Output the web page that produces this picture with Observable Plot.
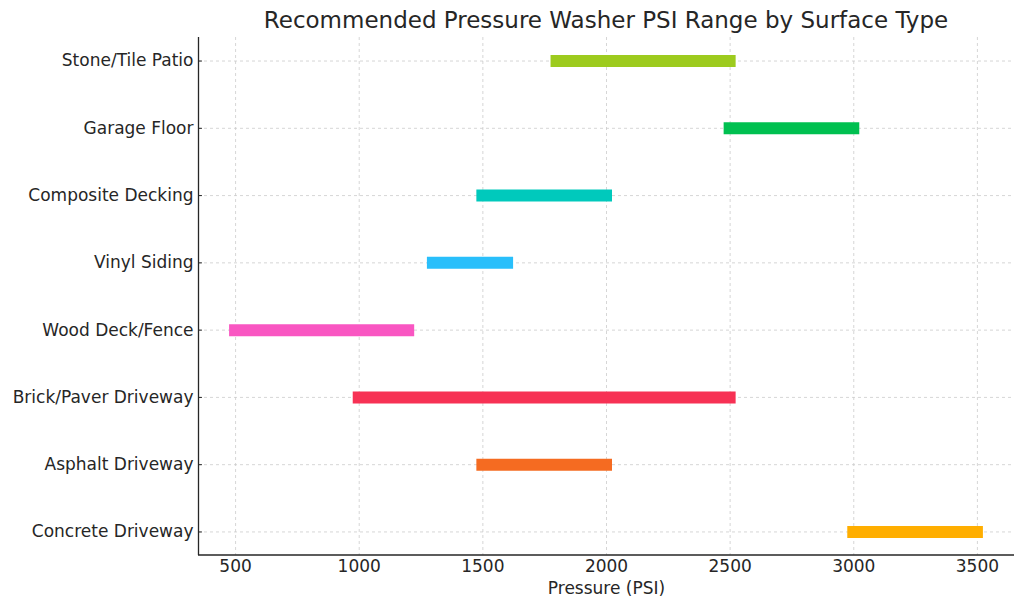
<!DOCTYPE html>
<html>
<head>
<meta charset="utf-8">
<script src="https://cdn.jsdelivr.net/npm/d3@7"></script>
<script src="https://cdn.jsdelivr.net/npm/@observablehq/plot@0.6"></script>
<style>
  html, body { margin: 0; padding: 0; background: #fff; }
  #wrap { position: relative; width: 1024px; height: 611px; font-family: "DejaVu Sans", sans-serif; }
  #title { position: absolute; left: 198px; width: 816px; top: 7px; text-align: center; font-size: 23px; color: #262626; white-space: nowrap; }
  #chart { position: absolute; left: 0; top: 0; }
  #chart svg text { font-family: "DejaVu Sans", sans-serif; font-size: 17px; }
</style>
</head>
<body>
<div id="wrap">
  <div id="chart"></div>
  <div id="title">Recommended Pressure Washer PSI Range by Surface Type</div>
</div>
<script>
const surfaces = ["Concrete Driveway", "Asphalt Driveway", "Brick/Paver Driveway", "Wood Deck/Fence", "Vinyl Siding", "Composite Decking", "Garage Floor", "Stone/Tile Patio"];
const minPSI = [3000, 1500, 1000, 500, 1300, 1500, 2500, 1800];
const maxPSI = [3500, 2000, 2500, 1200, 1600, 2000, 3000, 2500];
const colors = ["#ffae00", "#f56b21", "#f73154", "#f956c2", "#29bffb", "#00c9bc", "#00c050", "#9dcb1e"];
const xTicks = [500, 1000, 1500, 2000, 2500, 3000, 3500];
const xDomain = [350, 3650];

const data = surfaces.map((s, i) => ({surface: s, lo: minPSI[i], hi: maxPSI[i], color: colors[i]}));

const chart = Plot.plot({
  width: 1024,
  height: 611,
  marginLeft: 198,
  marginRight: 10,
  marginTop: 37,
  marginBottom: 56,
  style: {fontFamily: "DejaVu Sans, sans-serif", fontSize: "17px", color: "#262626", background: "#fff"},
  x: {domain: xDomain, ticks: xTicks, label: null, tickFormat: d => String(d)},
  y: {type: "point", domain: surfaces.slice().reverse(), padding: 0.35, round: false, label: null},
  marks: [
    Plot.gridX(xTicks, {stroke: "#cccccc", strokeOpacity: 1, strokeDasharray: "3,3", strokeWidth: 0.8}),
    Plot.gridY(surfaces, {stroke: "#cccccc", strokeOpacity: 1, strokeDasharray: "3,3", strokeWidth: 0.8}),
    Plot.ruleY(data, {y: "surface", x1: "lo", x2: "hi", stroke: "color", strokeWidth: 12, strokeLinecap: "square"}),
    Plot.axisX(xTicks, {tickSize: 0, tickPadding: 4, fill: "#262626", tickFormat: d => String(d)}),
    Plot.axisY(surfaces, {tickSize: 0, tickPadding: 5, fill: "#262626", textAnchor: "end"}),
    Plot.ruleY(surfaces, {x1: xDomain[0], x2: xDomain[0] + 16, stroke: "#262626", strokeWidth: 1}),
    Plot.ruleX([xDomain[0]], {stroke: "#262626", strokeWidth: 1.3}),
    Plot.text(["Pressure (PSI)"], {frameAnchor: "bottom", lineAnchor: "middle", dy: 33, fill: "#262626"})
  ]
});
document.getElementById("chart").appendChild(chart);

// bottom spine along the frame
const svg = d3.select(chart);
svg.append("line")
  .attr("x1", 198).attr("x2", 1014)
  .attr("y1", 555).attr("y2", 555)
  .attr("stroke", "#262626").attr("stroke-width", 1.3);
</script>
</body>
</html>
